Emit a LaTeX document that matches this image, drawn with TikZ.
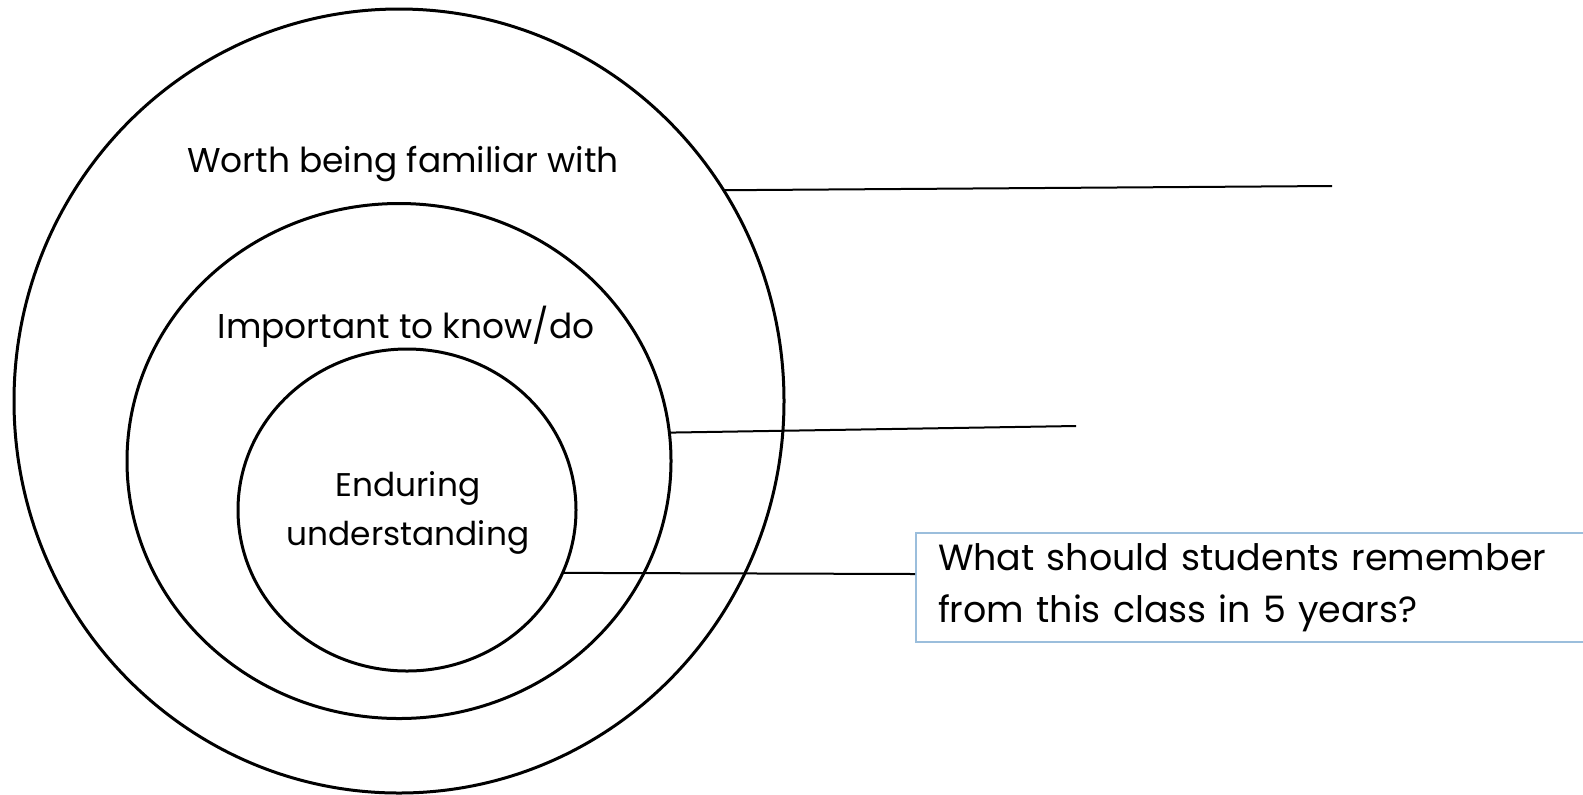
\documentclass[tikz,border=0pt]{standalone}
\usepackage{fontspec}
\setmainfont{Poppins}
\usetikzlibrary{shapes.geometric}
\tikzset{
  ring/.style={draw=black, line width=1.5pt, ellipse, inner sep=0pt, outer sep=0pt},
  lbl/.style={font=\fontsize{17.2}{20}\selectfont, inner sep=0pt},
  conn/.style={draw=black, line width=1pt},
  qbox/.style={draw={rgb,255:red,155;green,190;blue,220}, line width=1pt, anchor=west,
    minimum height=54.5pt, text width=328pt, inner xsep=11pt, inner ysep=0pt, align=left,
    font=\fontsize{18.2}{26}\selectfont}
}
\begin{document}
\begin{tikzpicture}[x=0.5pt,y=-0.5pt]
\useasboundingbox (0,0) rectangle (1583,794);
\node[ring, minimum width=385pt, minimum height=392pt] (outer) at (399,401) {};
\node[ring, minimum width=272pt, minimum height=257.5pt] (middle) at (399,461) {};
\node[ring, minimum width=169pt, minimum height=161pt] (inner) at (407,510) {};
\node[lbl] (t1) at (403,164) {Worth being familiar with};
\node[lbl] (t2) at (406,327) {Important to know/do};
\node[lbl, align=center, font=\fontsize{16.4}{24.5}\selectfont] (t3) at (408,513) {Enduring\\understanding};
\node[qbox] (q) at (915,587.5) {What should students remember\\from this class in 5 years?};
\coordinate (e1) at (1332,186);
\coordinate (e2) at (1076,426);
\draw[conn] (outer.33) -- (e1);
\draw[conn] (middle.6.7) -- (e2);
\draw[conn] (inner.-22.2) -- (q.west |- 0,574);
\end{tikzpicture}
\end{document}
